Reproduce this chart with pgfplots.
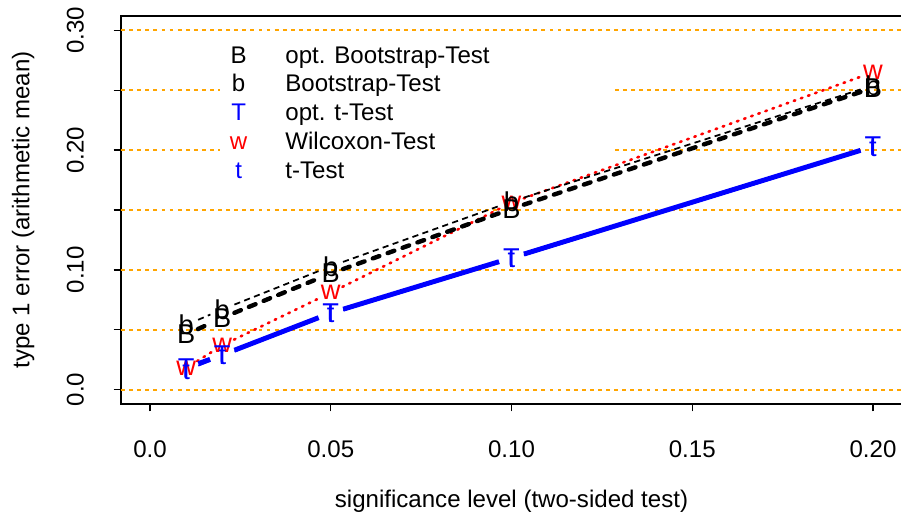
\documentclass[border=0pt]{standalone}
\usepackage{pgfplots}
\pgfplotsset{compat=1.18}
\usepackage{fontspec}
\setmainfont{Liberation Sans}

\definecolor{rblue}{RGB}{0,0,255}
\definecolor{rred}{RGB}{255,0,0}
\definecolor{rorange}{RGB}{255,165,0}

\newcommand{\labfont}{\fontsize{13.7}{16.4}\selectfont}
\newcommand{\markfont}{\fontsize{15.5}{18.6}\selectfont}

% one line segment between two neighbouring points, with a gap round each letter
\newcommand{\seg}[3]{\addplot[#1, forget plot, shorten <=0.26cm, shorten >=0.26cm] coordinates {#2 #3};}

\pgfplotsset{
  gridline/.style={draw=rorange, color=rorange, line width=1pt, dash pattern=on 2.2pt off 2.4pt},
  optboot/.style={black, line width=2.5pt, line cap=round, dash pattern=on 4pt off 5pt},
  boot/.style={black, line width=1pt, dash pattern=on 3.5pt off 2.5pt},
  optt/.style={rblue, line width=2.8pt},
  wilc/.style={rred, line width=1.5pt, line cap=round, dash pattern=on 0.9pt off 3.4pt},
  ttest/.style={rblue, line width=1pt},
  letter/.style={only marks, forget plot, mark=text, text mark={#1}, text mark as node=true,
    text mark style={font=\markfont, inner sep=0pt, anchor=center}},
  letterlegend/.style={legend image code/.code={\path[draw=none, fill=none] (0,0) rectangle (1.3cm,0);
    \node[inner sep=0pt, anchor=base] at (0.366cm,-0.111cm) {#1};}},
}

\begin{document}
\begin{tikzpicture}
\begin{axis}[
  name=ax, scale only axis, width=15.616cm, height=7.76cm,
  xmin=-0.008, xmax=0.208, ymin=-0.012, ymax=0.312,
  axis line style={line width=0.8pt},
  tick align=outside, major tick length=0.15cm,
  every tick/.style={black, line width=0.8pt},
  xtick={0,0.05,0.1,0.15,0.2}, xticklabels={0.0,0.05,0.10,0.15,0.20},
  ytick={0,0.05,0.1,0.15,0.2,0.25,0.3}, yticklabels={0.0,,0.10,,0.20,,0.30},
  xtick pos=bottom, ytick pos=left, minor tick num=0,
  /pgf/number format/assume math mode=true,
  ticklabel style={font=\labfont},
  xticklabel style={yshift=-0.58cm, anchor=north, inner sep=0pt},
  yticklabel style={xshift=-0.59cm, rotate=90, anchor=south, inner sep=0pt},
  xlabel={significance level (two-sided test)},
  ylabel={type 1 error (arithmetic mean)},
  label style={font=\labfont},
  xlabel style={at={(axis description cs:0.5,-0.25)}, anchor=center, inner sep=0pt},
  ylabel style={at={(axis description cs:-0.1255,0.5)}, anchor=center, inner sep=0pt},
  legend style={at={(axis description cs:0.1267,0.9485)}, anchor=north west,
    draw=none, fill=none, inner xsep=0pt, inner ysep=0.134cm, font=\labfont,
    row sep=0pt, column sep=0pt,
    nodes={inner sep=0pt, text height=0.4cm, text depth=0.178cm}},
  legend cell align=left,
]
% legend entries
\addlegendimage{black, letterlegend=B}\addlegendentry{opt. Bootstrap-Test}
\addlegendimage{black, letterlegend=b}\addlegendentry{Bootstrap-Test}
\addlegendimage{rblue, letterlegend=T}\addlegendentry{opt. t-Test}
\addlegendimage{rred, letterlegend=w}\addlegendentry{Wilcoxon-Test}
\addlegendimage{rblue, letterlegend=t}\addlegendentry{t-Test}

% horizontal reference lines (the two inside the legend area are broken)
\addplot[gridline, forget plot] coordinates {(-0.008,0) (0.208,0)};
\addplot[gridline, forget plot] coordinates {(-0.008,0.05) (0.208,0.05)};
\addplot[gridline, forget plot] coordinates {(-0.008,0.10) (0.208,0.10)};
\addplot[gridline, forget plot] coordinates {(-0.008,0.15) (0.208,0.15)};
\addplot[gridline, forget plot] coordinates {(-0.008,0.20) (0.0194,0.20)};
\addplot[gridline, forget plot] coordinates {(0.1286,0.20) (0.208,0.20)};
\addplot[gridline, forget plot] coordinates {(-0.008,0.25) (0.0194,0.25)};
\addplot[gridline, forget plot] coordinates {(0.1286,0.25) (0.208,0.25)};
\addplot[gridline, forget plot] coordinates {(-0.008,0.30) (0.208,0.30)};

% Wilcoxon-Test
\seg{wilc}{(0.01,0.018)}{(0.02,0.037)}
\seg{wilc}{(0.02,0.037)}{(0.05,0.081)}
\seg{wilc}{(0.05,0.081)}{(0.10,0.156)}
\seg{wilc}{(0.10,0.156)}{(0.20,0.265)}
\addplot[rred, letter=w] coordinates {(0.01,0.018) (0.02,0.037) (0.05,0.081) (0.10,0.156) (0.20,0.265)};

% opt. t-Test
\seg{optt}{(0.01,0.018)}{(0.02,0.029)}
\seg{optt}{(0.02,0.029)}{(0.05,0.064)}
\seg{optt}{(0.05,0.064)}{(0.10,0.110)}
\seg{optt}{(0.10,0.110)}{(0.20,0.203)}
\addplot[rblue, letter=T] coordinates {(0.01,0.018) (0.02,0.029) (0.05,0.064) (0.10,0.110) (0.20,0.203)};

% t-Test
\seg{ttest}{(0.01,0.016)}{(0.02,0.028)}
\seg{ttest}{(0.02,0.028)}{(0.05,0.063)}
\seg{ttest}{(0.05,0.063)}{(0.10,0.109)}
\seg{ttest}{(0.10,0.109)}{(0.20,0.202)}
\addplot[rblue, letter=t] coordinates {(0.01,0.016) (0.02,0.028) (0.05,0.063) (0.10,0.109) (0.20,0.202)};

% opt. Bootstrap-Test
\seg{optboot}{(0.01,0.046)}{(0.02,0.060)}
\seg{optboot}{(0.02,0.060)}{(0.05,0.097)}
\seg{optboot}{(0.05,0.097)}{(0.10,0.151)}
\seg{optboot}{(0.10,0.151)}{(0.20,0.252)}
\addplot[black, letter=B] coordinates {(0.01,0.046) (0.02,0.060) (0.05,0.097) (0.10,0.151) (0.20,0.252)};

% Bootstrap-Test
\seg{boot}{(0.01,0.054)}{(0.02,0.067)}
\seg{boot}{(0.02,0.067)}{(0.05,0.103)}
\seg{boot}{(0.05,0.103)}{(0.10,0.157)}
\seg{boot}{(0.10,0.157)}{(0.20,0.254)}
\addplot[black, letter=b] coordinates {(0.01,0.054) (0.02,0.067) (0.05,0.103) (0.10,0.157) (0.20,0.254)};
\end{axis}
\pgfresetboundingbox
\path[use as bounding box] ([xshift=-2.422cm, yshift=-2.32cm]ax.south west)
  rectangle ([xshift=-0.018cm, yshift=0.32cm]ax.north east);
\end{tikzpicture}
\end{document}
